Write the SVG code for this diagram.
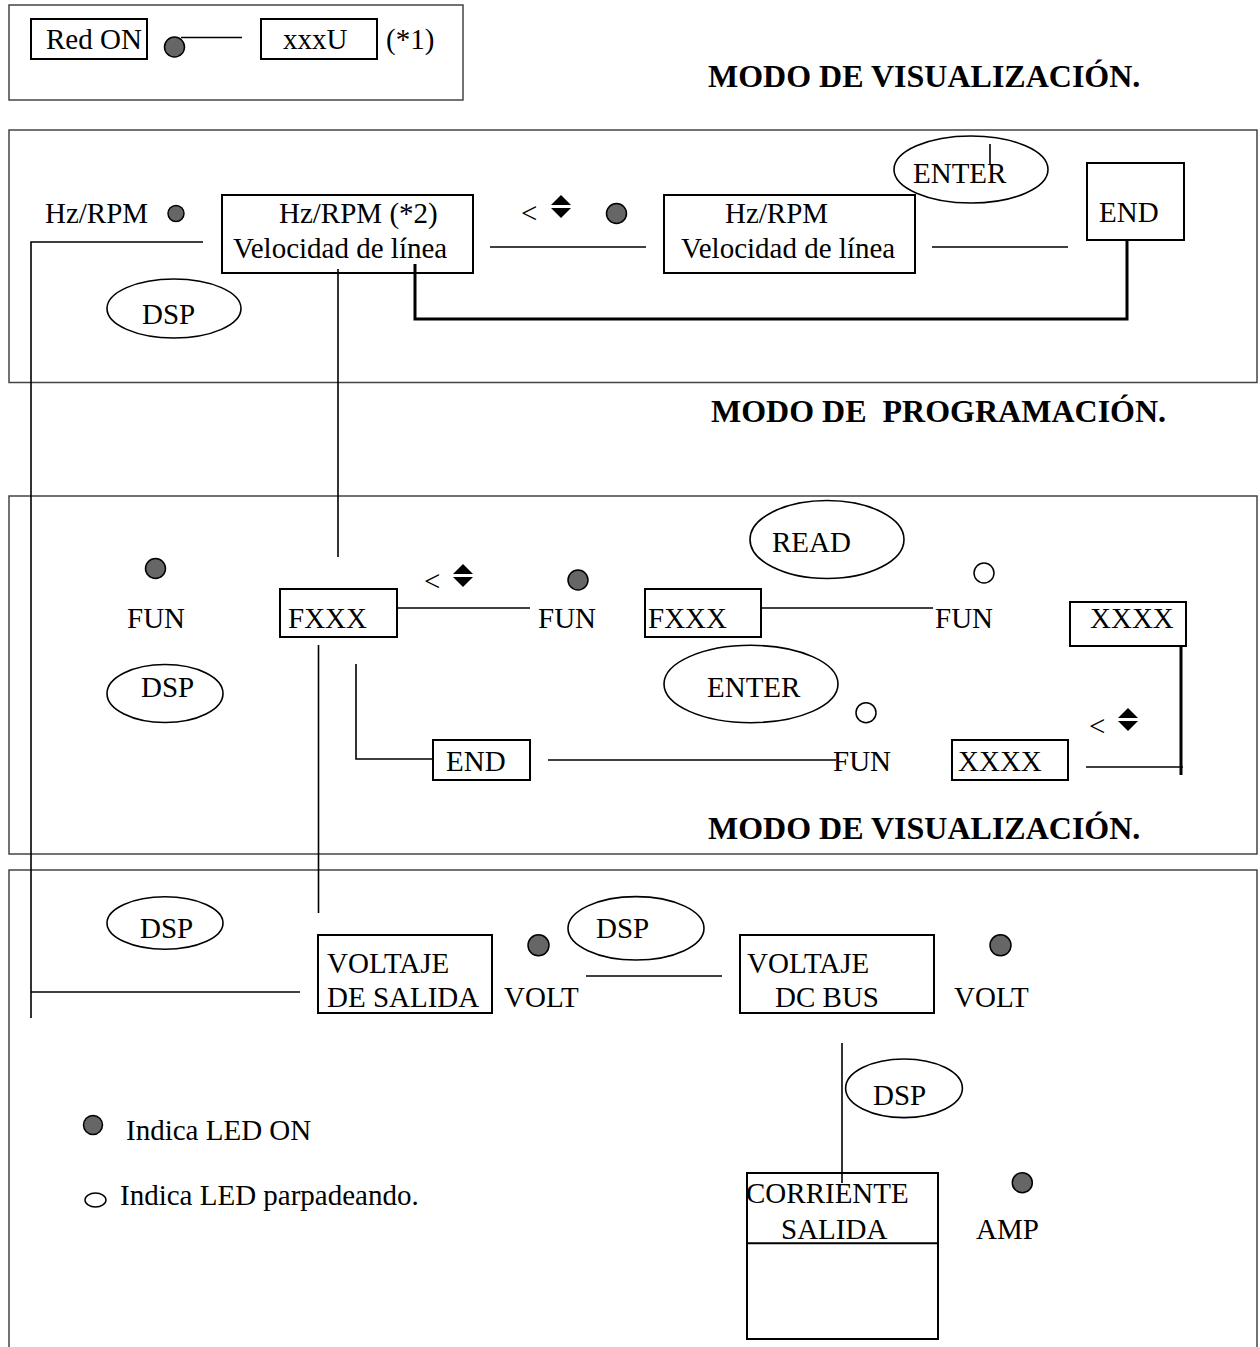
<svg xmlns="http://www.w3.org/2000/svg" width="1260" height="1347" viewBox="0 0 1260 1347">
<style>
text{font-family:"Liberation Serif","Times New Roman",serif;font-size:29px;fill:#000}
.h{font-weight:bold;font-size:32px}
.panel{fill:none;stroke:#444;stroke-width:1.5}
.box{fill:none;stroke:#000;stroke-width:2}
.btn{fill:none;stroke:#000;stroke-width:1.6}
.on{fill:#666;stroke:#000;stroke-width:1.5}
.blink{fill:#fff;stroke:#000;stroke-width:1.5}
.ln{stroke:#000;stroke-width:1.6;fill:none}
.thk{stroke:#000;stroke-width:3;fill:none}
.ud{fill:#000}
</style>
<defs>
<g id="updown"><polygon points="0,0 10,10 -10,10"/><polygon points="-10,13 10,13 0,23"/></g>
</defs>
<rect width="1260" height="1347" fill="#fff"/>
<g id="panels">
<rect class="panel" x="9" y="5" width="454" height="95"/>
<rect class="panel" x="9" y="130" width="1248" height="252.5"/>
<rect class="panel" x="9" y="496" width="1248" height="358"/>
<path class="panel" d="M9,1347 V870 H1257 V1347"/>
</g>
<g id="headers">
<text class="h" x="708" y="87">MODO DE VISUALIZACIÓN.</text>
<text class="h" x="711" y="422" xml:space="preserve">MODO DE  PROGRAMACIÓN.</text>
<text class="h" x="708" y="839">MODO DE VISUALIZACIÓN.</text>
</g>
<g id="n-redon"><rect class="box" x="31" y="19" width="116" height="40"/><text x="46" y="49">Red ON</text></g>
<g id="n-led0"><circle class="on" cx="174.5" cy="47" r="10"/></g>
<g id="n-xxxu"><rect class="box" x="261" y="19" width="116" height="40"/><text x="283" y="49">xxxU</text><text x="386" y="49">(*1)</text></g>

<g id="n-hzrpm-label"><text x="45" y="223">Hz/RPM</text><circle class="on" cx="176" cy="213.5" r="8"/></g>
<g id="n-hzrpm1"><rect class="box" x="222" y="195" width="251" height="78"/><text x="279" y="223">Hz/RPM (*2)</text><text x="233" y="258">Velocidad de línea</text></g>
<g id="n-dsp1"><ellipse class="btn" cx="174" cy="308.5" rx="67" ry="29.5"/><text x="142" y="324">DSP</text></g>
<g id="n-ud1"><text x="521" y="223">&lt;</text><use href="#updown" class="ud" x="561" y="195"/><circle class="on" cx="616.5" cy="213.5" r="10"/></g>
<g id="n-hzrpm2"><rect class="box" x="664" y="195" width="251" height="78"/><text x="725" y="223">Hz/RPM</text><text x="681" y="258">Velocidad de línea</text></g>
<g id="n-enter1"><ellipse class="btn" cx="971" cy="169.5" rx="77" ry="33.5"/><text x="913" y="183">ENTER</text></g>
<g id="n-end1"><rect class="box" x="1087" y="163" width="97" height="77"/><text x="1099" y="222">END</text></g>

<g id="n-fun1"><circle class="on" cx="155.5" cy="568.5" r="10"/><text x="127" y="628">FUN</text></g>
<g id="n-dsp2"><ellipse class="btn" cx="165" cy="693.5" rx="58" ry="29"/><text x="141" y="697">DSP</text></g>
<g id="n-fxxx1"><rect class="box" x="280" y="589" width="117" height="48"/><text x="288" y="628">FXXX</text></g>
<g id="n-ud2"><text x="424" y="591">&lt;</text><use href="#updown" class="ud" x="463" y="564"/></g>
<g id="n-fun2"><circle class="on" cx="578" cy="580" r="10"/><text x="538" y="628">FUN</text></g>
<g id="n-fxxx2"><rect class="box" x="645" y="589" width="116" height="48"/><text x="648" y="628">FXXX</text></g>
<g id="n-read"><ellipse class="btn" cx="827" cy="539.5" rx="77" ry="39"/><text x="772" y="552">READ</text></g>
<g id="n-fun3"><circle class="blink" cx="984" cy="573" r="10"/><text x="935" y="628">FUN</text></g>
<g id="n-xxxx1"><rect class="box" x="1070" y="602" width="116" height="44"/><text x="1090" y="628">XXXX</text></g>
<g id="n-enter2"><ellipse class="btn" cx="751" cy="684" rx="87" ry="38.7"/><text x="707" y="697">ENTER</text></g>
<g id="n-fun4"><circle class="blink" cx="866" cy="712.7" r="10"/><text x="833" y="771">FUN</text></g>
<g id="n-end2"><rect class="box" x="433" y="740" width="97" height="40"/><text x="446" y="771">END</text></g>
<g id="n-xxxx2"><rect class="box" x="952" y="740" width="116" height="40"/><text x="958" y="771">XXXX</text></g>
<g id="n-ud3"><text x="1089" y="736">&lt;</text><use href="#updown" class="ud" x="1128" y="708"/></g>

<g id="n-dsp3"><ellipse class="btn" cx="165" cy="923" rx="58" ry="26.3"/><text x="140" y="938">DSP</text></g>
<g id="n-vsal"><rect class="box" x="318" y="935" width="174" height="78"/><text x="327" y="973">VOLTAJE</text><text x="327" y="1007">DE SALIDA</text></g>
<g id="n-volt1"><circle class="on" cx="538.5" cy="945.3" r="10.5"/><text x="504" y="1007">VOLT</text></g>
<g id="n-dsp4"><ellipse class="btn" cx="636" cy="928.3" rx="68" ry="31.7"/><text x="596" y="938">DSP</text></g>
<g id="n-vdc"><rect class="box" x="740" y="935" width="194" height="78"/><text x="747" y="973">VOLTAJE</text><text x="775" y="1007">DC BUS</text></g>
<g id="n-volt2"><circle class="on" cx="1000.5" cy="945.3" r="10.5"/><text x="954" y="1007">VOLT</text></g>
<g id="n-dsp5"><ellipse class="btn" cx="904" cy="1088.3" rx="58.4" ry="29.3"/><text x="873" y="1105">DSP</text></g>
<g id="n-corr"><rect class="box" x="747" y="1173" width="191" height="166"/><line class="box" x1="747" y1="1243.3" x2="938" y2="1243.3"/><text x="746" y="1203">CORRIENTE</text><text x="781" y="1239">SALIDA</text></g>
<g id="n-amp"><circle class="on" cx="1022.3" cy="1182.7" r="10"/><text x="976" y="1239">AMP</text></g>

<g id="legend">
<circle class="on" cx="93" cy="1125" r="9.5"/><text x="126" y="1140">Indica LED ON</text>
<ellipse class="blink" cx="95.5" cy="1200" rx="10.5" ry="7"/><text x="120" y="1205">Indica LED parpadeando.</text>
</g>
<g id="connectors">
<line class="ln" x1="181" y1="37.5" x2="242" y2="37.5"/>
<polyline class="ln" points="203,242 31,242 31,1018"/>
<line class="ln" x1="31" y1="992" x2="300" y2="992"/>
<line class="ln" x1="338" y1="269" x2="338" y2="557"/>
<polyline class="thk" points="415,264 415,319 1127,319 1127,240"/>
<line class="ln" x1="490" y1="247" x2="646" y2="247"/>
<line class="ln" x1="932" y1="247" x2="1068" y2="247"/>
<line class="ln" x1="990" y1="144" x2="990" y2="164"/>
<line class="ln" x1="397" y1="608" x2="530" y2="608"/>
<line class="ln" x1="761" y1="608" x2="933" y2="608"/>
<line class="thk" x1="1181" y1="646" x2="1181" y2="775"/>
<line class="ln" x1="1086" y1="767" x2="1183" y2="767"/>
<polyline class="ln" points="356,664 356,759 433,759"/>
<line class="ln" x1="548" y1="760" x2="836" y2="760"/>
<line class="ln" x1="318.5" y1="645" x2="318.5" y2="913"/>
<line class="ln" x1="586" y1="976" x2="722" y2="976"/>
<line class="ln" x1="842" y1="1043" x2="842" y2="1183"/>
</g>
</svg>
